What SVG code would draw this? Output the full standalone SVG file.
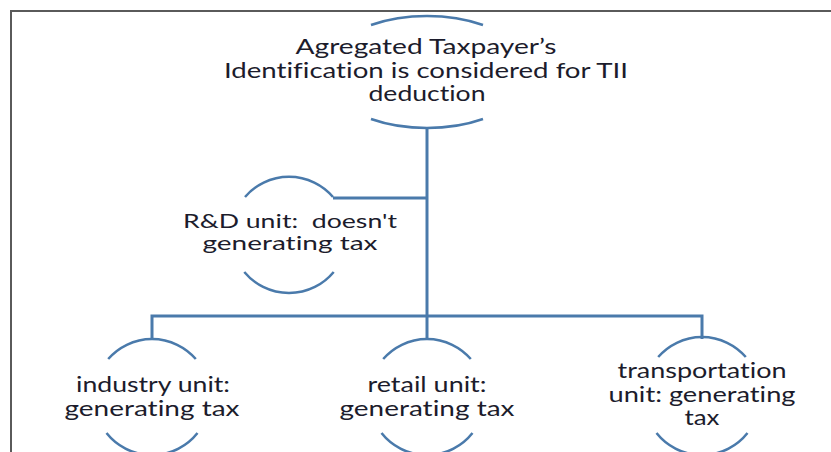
<svg xmlns="http://www.w3.org/2000/svg" width="831" height="452" viewBox="0 0 831 452">
<style>
.arc{fill:none;stroke:#4a7aab;stroke-width:2.5}
.con{fill:none;stroke:#4a7aab;stroke-width:3}
.t{font-family:Lato,"Liberation Sans",sans-serif;fill:#1c1c2c;text-anchor:middle;font-variant-ligatures:none;white-space:pre}
.tt{font-size:21px}
.tr{font-size:20px}
.tn{font-size:21px}
</style>
<rect x="0" y="0" width="831" height="452" fill="#ffffff"/>
<path d="M11,452 V11 H831" fill="none" stroke="#5a5a5a" stroke-width="2"/>
<g id="connectors">
<path class="con" d="M427,128 V339"/>
<path class="con" d="M333,198 H427"/>
<path class="con" d="M152,339 V316 H702 V339"/>
</g>
<g id="top">
<path class="arc" d="M371,25 A103,56 0 0,1 483,25"/>
<path class="arc" d="M371,119 A103,56 0 0,0 483,119"/>
<text class="t tt" x="426" y="54" textLength="261" lengthAdjust="spacingAndGlyphs">Agregated Taxpayer’s</text>
<text class="t tt" x="426" y="78" textLength="404" lengthAdjust="spacingAndGlyphs">Identification is considered for TII</text>
<text class="t tt" x="427" y="101" textLength="117" lengthAdjust="spacingAndGlyphs">deduction</text>
</g>
<g id="rd">
<path class="arc" d="M245,197 A58,58 0 0,1 333,197"/>
<path class="arc" d="M244.3,272 A58,58 0 0,0 333.7,272"/>
<text class="t tr" x="290" y="228" textLength="214" lengthAdjust="spacingAndGlyphs" xml:space="preserve">R&amp;D unit:  doesn't</text>
<text class="t tr" x="290" y="250" textLength="175" lengthAdjust="spacingAndGlyphs">generating tax</text>
</g>
<g id="industry">
<path class="arc" d="M108.2,359 A58,58 0 0,1 195.8,359"/>
<path class="arc" d="M106.5,433 A58,58 0 0,0 197.5,433"/>
<text class="t tn" x="153" y="392" textLength="154" lengthAdjust="spacingAndGlyphs">industry unit:</text>
<text class="t tn" x="152" y="416" textLength="175" lengthAdjust="spacingAndGlyphs">generating tax</text>
</g>
<g id="retail">
<path class="arc" d="M383.2,359 A58,58 0 0,1 470.8,359"/>
<path class="arc" d="M381.5,433 A58,58 0 0,0 472.5,433"/>
<text class="t tn" x="427" y="392" textLength="119" lengthAdjust="spacingAndGlyphs">retail unit:</text>
<text class="t tn" x="427" y="416" textLength="175" lengthAdjust="spacingAndGlyphs">generating tax</text>
</g>
<g id="transport">
<path class="arc" d="M658.2,357 A58,58 0 0,1 745.8,357"/>
<path class="arc" d="M656.5,433 A58,58 0 0,0 747.5,433"/>
<text class="t tn" x="702" y="378" textLength="169" lengthAdjust="spacingAndGlyphs">transportation</text>
<text class="t tn" x="702" y="402" textLength="187" lengthAdjust="spacingAndGlyphs">unit: generating</text>
<text class="t tn" x="702" y="425" textLength="35" lengthAdjust="spacingAndGlyphs">tax</text>
</g>
</svg>
